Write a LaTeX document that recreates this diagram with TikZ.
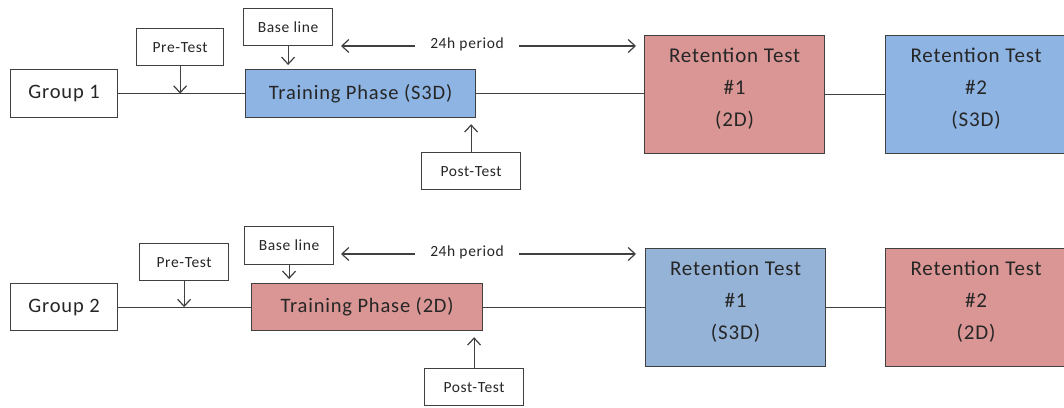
\documentclass[tikz,border=0pt]{standalone}
\usepackage{fontspec}
\setmainfont{Carlito}[LetterSpace=4]
\usetikzlibrary{arrows.meta}
\definecolor{bluefill}{HTML}{8EB4E3}
\definecolor{bluefillb}{HTML}{95B3D7}
\definecolor{redfill}{HTML}{D99694}
\definecolor{edge}{HTML}{404040}
\definecolor{ink}{HTML}{262626}
\tikzset{
  box/.style={draw=edge, line width=1.2pt, anchor=north west, inner sep=0pt, text=ink, align=center},
  bigbox/.style={box, font=\fontsize{20.5}{24}\selectfont},
  smallbox/.style={box, font=\fontsize{15.5}{18}\selectfont, fill=white},
  retbox/.style={box, font=\fontsize{21}{32}\selectfont, minimum width=180pt, minimum height=118pt, text depth=14pt},
  conn/.style={draw=edge, line width=1.2pt},
  arr/.style={conn, -{Straight Barb[length=7pt,width=13pt,line width=1.2pt]}},
  lbl/.style={text=ink, font=\fontsize{15.5}{18}\selectfont, inner sep=0pt}
}
\begin{document}
\begin{tikzpicture}[x=1pt,y=-1pt]
\useasboundingbox (0,0) rectangle (1064,407);
\clip (0,0) rectangle (1064,407);
\fill[white] (0,0) rectangle (1064,407);

% ---------- Group 1 ----------
\node[bigbox, minimum width=107pt, minimum height=48pt, fill=white] (g1) at (10,69) {Group 1};
\node[bigbox, minimum width=230pt, minimum height=48pt, fill=bluefill] (tr1) at (245,69) {Training Phase (S3D)};
\node[smallbox, minimum width=87pt, minimum height=37pt] (pre1) at (136,28) {Pre-Test};
\node[smallbox, minimum width=89pt, minimum height=37pt] (base1) at (243,8) {Base line};
\node[smallbox, minimum width=99pt, minimum height=37pt] (post1) at (421,152) {Post-Test};
\node[retbox, fill=redfill] (r1a) at (644,35) {Retention Test\\\#1\\(2D)};
\node[retbox, fill=bluefill, minimum width=181pt] (r1b) at (885,35) {Retention Test\\\#2\\(S3D)};

\draw[conn] (g1.east) -- (tr1.west);
\draw[conn] (tr1.east) -- (tr1.east -| r1a.west);
\draw[conn] (r1a.east) -- (r1b.west);
\draw[arr] (pre1.south) -- (pre1.south |- g1.east);
\draw[arr] (base1.south) -- ([yshift=4pt]base1.south |- tr1.north);
\draw[arr] (post1.north) -- ([yshift=-6pt]post1.north |- tr1.south);

\node[lbl] (t1) at (467,44) {24h period};
\coordinate (a1l) at (341,46);
\coordinate (a1r) at (636,46);
\draw[arr] ([xshift=-15pt]t1.west |- a1l) -- (a1l);
\draw[arr] ([xshift=15pt]t1.east |- a1r) -- (a1r);

% ---------- Group 2 ----------
\node[bigbox, minimum width=107pt, minimum height=47pt, fill=white] (g2) at (10,283) {Group 2};
\node[bigbox, minimum width=231pt, minimum height=47pt, fill=redfill] (tr2) at (251,283) {Training Phase (2D)};
\node[smallbox, minimum width=89pt, minimum height=37pt] (pre2) at (139,243) {Pre-Test};
\node[smallbox, minimum width=89pt, minimum height=38pt] (base2) at (244,226) {Base line};
\node[smallbox, minimum width=99pt, minimum height=37pt] (post2) at (424,368) {Post-Test};
\node[retbox, fill=bluefillb] (r2a) at (645,248) {Retention Test\\\#1\\(S3D)};
\node[retbox, fill=redfill, minimum width=181pt] (r2b) at (885,248) {Retention Test\\\#2\\(2D)};

\draw[conn] (g2.east) -- (tr2.west);
\draw[conn] (tr2.east) -- (tr2.east -| r2a.west);
\draw[conn] (r2a.east) -- (r2b.west);
\draw[arr] (pre2.south) -- (pre2.south |- g2.east);
\draw[arr] (base2.south) -- ([yshift=4pt]base2.south |- tr2.north);
\draw[arr] (post2.north) -- ([yshift=-6pt]post2.north |- tr2.south);

\node[lbl] (t2) at (467,252) {24h period};
\coordinate (a2l) at (341,254);
\coordinate (a2r) at (636,254);
\draw[arr] ([xshift=-15pt]t2.west |- a2l) -- (a2l);
\draw[arr] ([xshift=15pt]t2.east |- a2r) -- (a2r);
\end{tikzpicture}
\end{document}
